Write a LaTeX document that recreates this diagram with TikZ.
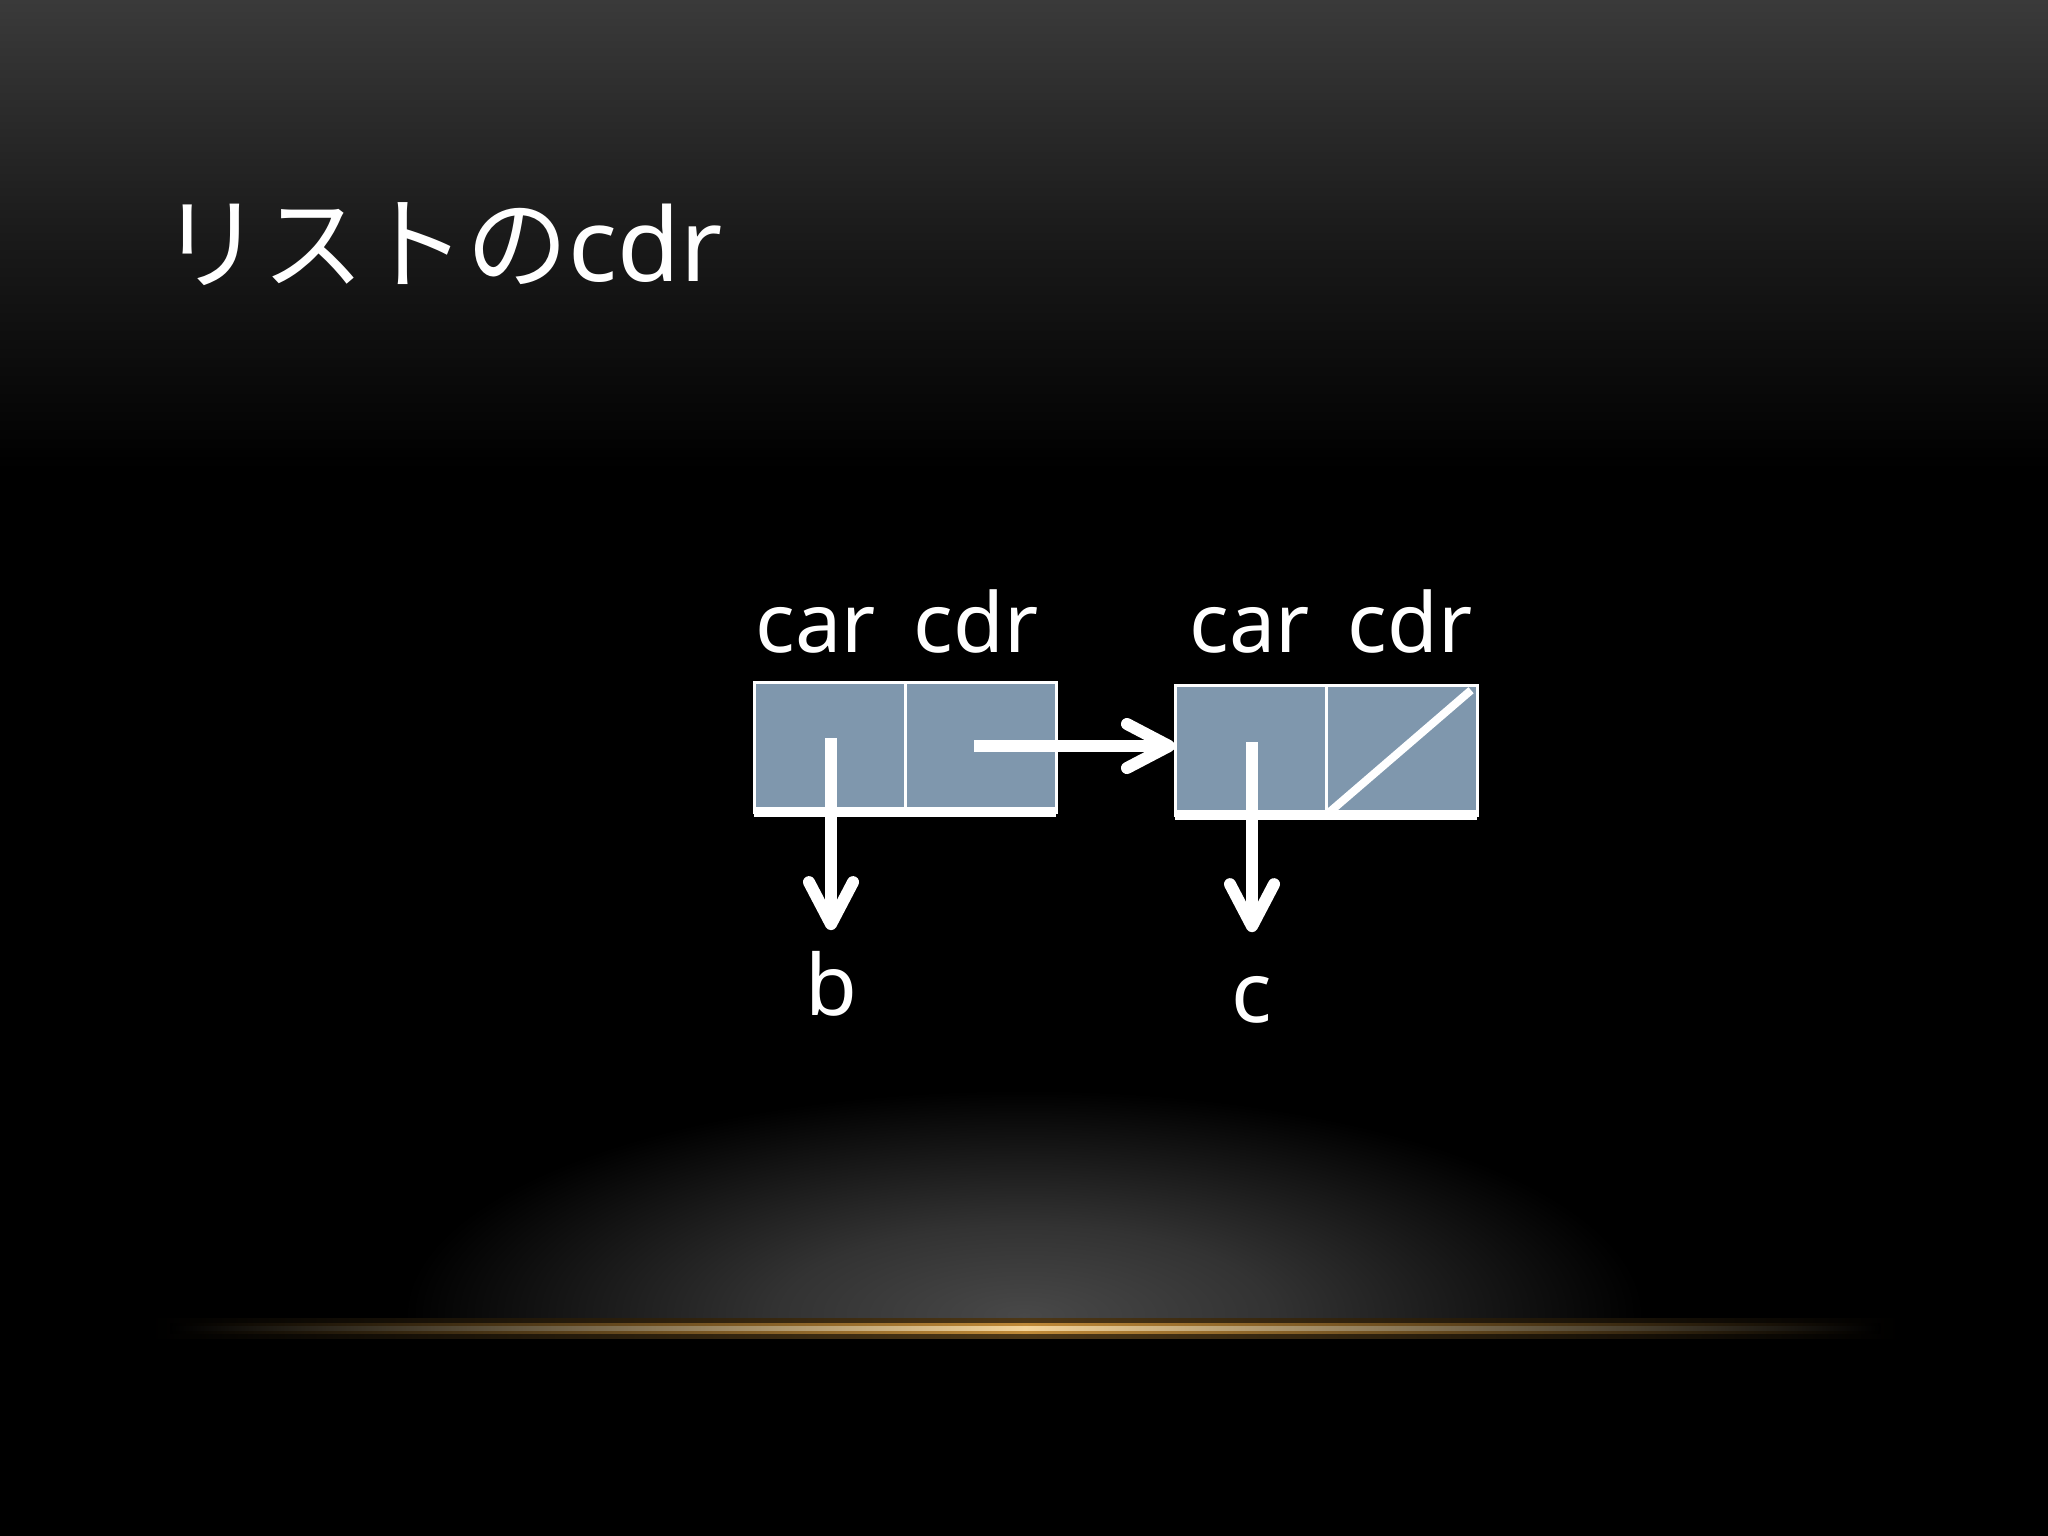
\documentclass[tikz,border=0pt]{standalone}
\usepackage{fontspec}
\setmainfont{Noto Sans}
\newfontfamily\jpfont{Noto Sans CJK JP}
\usetikzlibrary{arrows.meta,calc}
\definecolor{cellblue}{HTML}{7F97AD}
\definecolor{topgray}{HTML}{3A3A3A}
\definecolor{glowgray}{HTML}{484848}
\definecolor{goldcore}{HTML}{F4D49A}
\definecolor{goldedge}{HTML}{C08A38}
\pgfdeclareradialshading{glowshade}{\pgfpoint{0bp}{0bp}}{color(0bp)=(glowgray); color(10bp)=(glowgray!70!black); color(25bp)=(black); color(50bp)=(black)}
\begin{document}
\begin{tikzpicture}[x=0.01cm,y=-0.01cm,
  cell/.style={draw=white, line width=0.03cm, fill=cellblue, minimum width=1.51cm, minimum height=1.30cm, inner sep=0pt, outer sep=0pt},
  lbl/.style={text=white, font=\fontsize{23.5pt}{28pt}\selectfont, inner sep=0pt, anchor=base west},
  leaf/.style={text=white, font=\fontsize{24pt}{28pt}\selectfont, inner sep=0pt, anchor=base},
  ptr/.style={draw=white, line width=0.12cm, -{Straight Barb[length=0.42cm, width=0.44cm, line cap=round, line join=round]}},
  bottomline/.style={draw=white, line width=0.1cm},
  nilslash/.style={draw=white, line width=0.08cm}]
% background
\useasboundingbox (0,0) rectangle (2048,1536);
\fill[black] (0,0) rectangle (2048,1536);
\shade[top color=topgray, bottom color=black, middle color=topgray!45!black] (0,0) rectangle (2048,470);
\begin{scope}
  \clip (0,0) rectangle (2048,1328);
  \shade[shading=glowshade] (1024,1315) ellipse (620 and 225);
\end{scope}
\shade[left color=black, right color=black, middle color=goldedge!40!black] (150,1318) rectangle (1900,1338);
\shade[left color=black, right color=black, middle color=goldedge] (170,1323) rectangle (1880,1333);
\shade[left color=black, right color=black, middle color=goldcore] (170,1326) rectangle (1880,1330);
% title
\node[anchor=base west, inner sep=0pt, text=white, font=\fontsize{29pt}{34pt}\selectfont] (title) at (160,281) {{\jpfont リストの}cdr};
% labels
\node[lbl] (l1car) at (755,652) {car};
\node[lbl] (l1cdr) at (913,652) {cdr};
\node[lbl] (l2car) at (1189,652) {car};
\node[lbl] (l2cdr) at (1347,652) {cdr};
% cells
\node[cell, anchor=north west] (c1car) at (754,682) {};
\node[cell, anchor=north west] (c1cdr) at (905,682) {};
\node[cell, anchor=north west] (c2car) at (1175,685) {};
\node[cell, anchor=north west] (c2cdr) at (1326,685) {};
\draw[bottomline] (c1car.south west) -- (c1cdr.south east);
\draw[bottomline] (c2car.south west) -- (c2cdr.south east);
\draw[nilslash, shorten <=0.04cm, shorten >=0.08cm] (c2cdr.south west) -- (c2cdr.north east);
% leaves
\node[leaf] (b) at (831,1015) {b};
\node[leaf] (c) at (1252,1022) {c};
% pointers
\coordinate (s1) at (831,738);
\coordinate (s2) at (974,746);
\coordinate (s3) at (1252,742);
\draw[ptr, shorten >=0.2cm] (s1) -- (s1 |- b.north);
\draw[ptr, shorten >=0.43cm] (s3) -- (s3 |- c.north);
\draw[ptr] (s2) -- (s2 -| c2car.west);
\end{tikzpicture}
\end{document}
